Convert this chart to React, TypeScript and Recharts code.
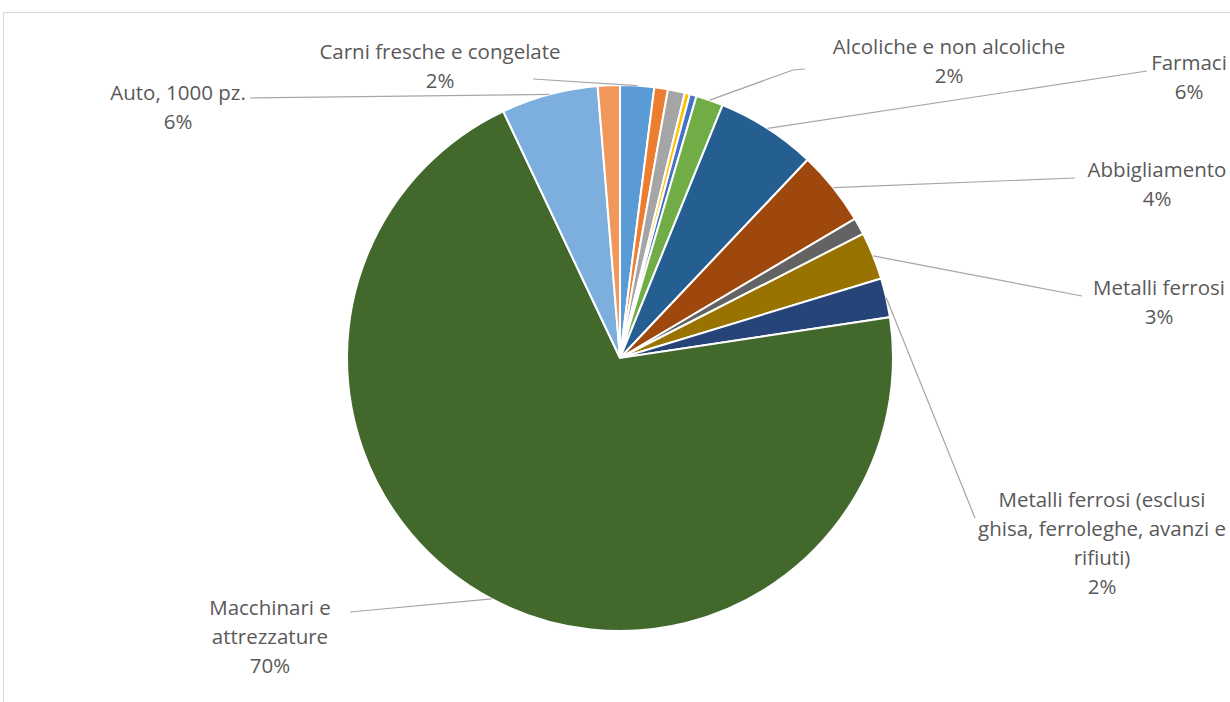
import React from 'react';
import { PieChart, Pie, Cell } from 'recharts';

// categories, clockwise from 12 o'clock
const categories = [
  'Carni fresche e congelate',
  'Pesce',
  'Frutta e verdura',
  'Latticini',
  'Cereali',
  'Alcoliche e non alcoliche',
  'Farmaci',
  'Abbigliamento',
  'Calzature',
  'Metalli ferrosi',
  'Metalli ferrosi (esclusi ghisa, ferroleghe, avanzi e rifiuti)',
  'Macchinari e attrezzature',
  'Auto, 1000 pz.',
  'Altro',
];

const shares = [2.0, 0.8, 1.0, 0.3, 0.4, 1.6, 5.9, 4.4, 1.0, 2.8, 2.3, 70.0, 5.7, 1.3];

const colors = [
  '#5B9BD5', '#ED7D31', '#A5A5A5', '#FFC000', '#4472C4', '#70AD47',
  '#255E91', '#9E480E', '#636363', '#997300', '#264478', '#43682B',
  '#7CAFDD', '#F1975A',
];

// label text lines (the percentage is appended from the data)
const labelLines: Record<string, string[]> = {
  'Carni fresche e congelate': ['Carni fresche e congelate'],
  'Alcoliche e non alcoliche': ['Alcoliche e non alcoliche'],
  'Farmaci': ['Farmaci'],
  'Abbigliamento': ['Abbigliamento'],
  'Metalli ferrosi': ['Metalli ferrosi'],
  'Metalli ferrosi (esclusi ghisa, ferroleghe, avanzi e rifiuti)': [
    'Metalli ferrosi (esclusi',
    'ghisa, ferroleghe, avanzi e',
    'rifiuti)',
  ],
  'Macchinari e attrezzature': ['Macchinari e', 'attrezzature'],
  'Auto, 1000 pz.': ['Auto, 1000 pz.'],
};

const data = categories.map((name, i) => ({ name, value: shares[i] }));

// where each label block sits and where its leader line ends
const labelLayout: Record<string, { x: number; y: number; end: number[]; elbow?: number[] }> = {
  'Carni fresche e congelate': { x: 440, y: 59, end: [533, 79] },
  'Alcoliche e non alcoliche': { x: 949, y: 54, end: [805, 69], elbow: [793, 70] },
  'Farmaci': { x: 1189, y: 70, end: [1147, 71] },
  'Abbigliamento': { x: 1157, y: 177, end: [1075, 178] },
  'Metalli ferrosi': { x: 1159, y: 295, end: [1082, 296] },
  'Metalli ferrosi (esclusi ghisa, ferroleghe, avanzi e rifiuti)': { x: 1102, y: 507, end: [975, 518] },
  'Macchinari e attrezzature': { x: 270, y: 615, end: [350, 612] },
  'Auto, 1000 pz.': { x: 178, y: 100, end: [250, 98] },
};

const RADIAN = Math.PI / 180;
const LINE_H = 29;

const renderLabel = (props: any) => {
  const { cx, cy, midAngle, outerRadius, name, percent } = props;
  const layout = labelLayout[name];
  const lines = labelLines[name];
  if (!layout || !lines) return null;
  const sx = cx + outerRadius * Math.cos(-midAngle * RADIAN);
  const sy = cy + outerRadius * Math.sin(-midAngle * RADIAN);
  const pts = [[sx, sy]];
  if (layout.elbow) pts.push(layout.elbow);
  pts.push(layout.end);
  const all = [...lines, `${Math.round(percent * 100)}%`];
  return (
    <g>
      <polyline
        points={pts.map((p) => p.join(',')).join(' ')}
        fill="none"
        stroke="#A6A6A6"
        strokeWidth={1.2}
      />
      <text
        x={layout.x}
        y={layout.y}
        textAnchor="middle"
        fill="#595959"
        fontSize={20.5}
        fontFamily="'Open Sans', sans-serif"
      >
        {all.map((t, i) => (
          <tspan key={i} x={layout.x} y={layout.y + i * LINE_H}>
            {t}
          </tspan>
        ))}
      </text>
    </g>
  );
};

export default function App() {
  return (
    <div style={{ position: 'absolute', left: 0, top: 0, width: 1230, height: 702, overflow: 'hidden', background: '#fff' }}>
      <div
        style={{
          position: 'absolute',
          left: 3,
          top: 12,
          width: 1260,
          height: 720,
          border: '1.5px solid #D9D9D9',
        }}
      />
      <div style={{ position: 'absolute', left: 0, top: 0 }}>
        <PieChart width={1230} height={702} margin={{ top: 0, right: 0, bottom: 0, left: 0 }}>
          <Pie
            data={data}
            dataKey="value"
            nameKey="name"
            cx={620}
            cy={358}
            outerRadius={273}
            startAngle={90}
            endAngle={-270}
            stroke="#FFFFFF"
            strokeWidth={2}
            label={renderLabel}
            labelLine={false}
            isAnimationActive={false}
          >
            {data.map((d, i) => (
              <Cell key={d.name} fill={colors[i]} />
            ))}
          </Pie>
        </PieChart>
      </div>
    </div>
  );
}
